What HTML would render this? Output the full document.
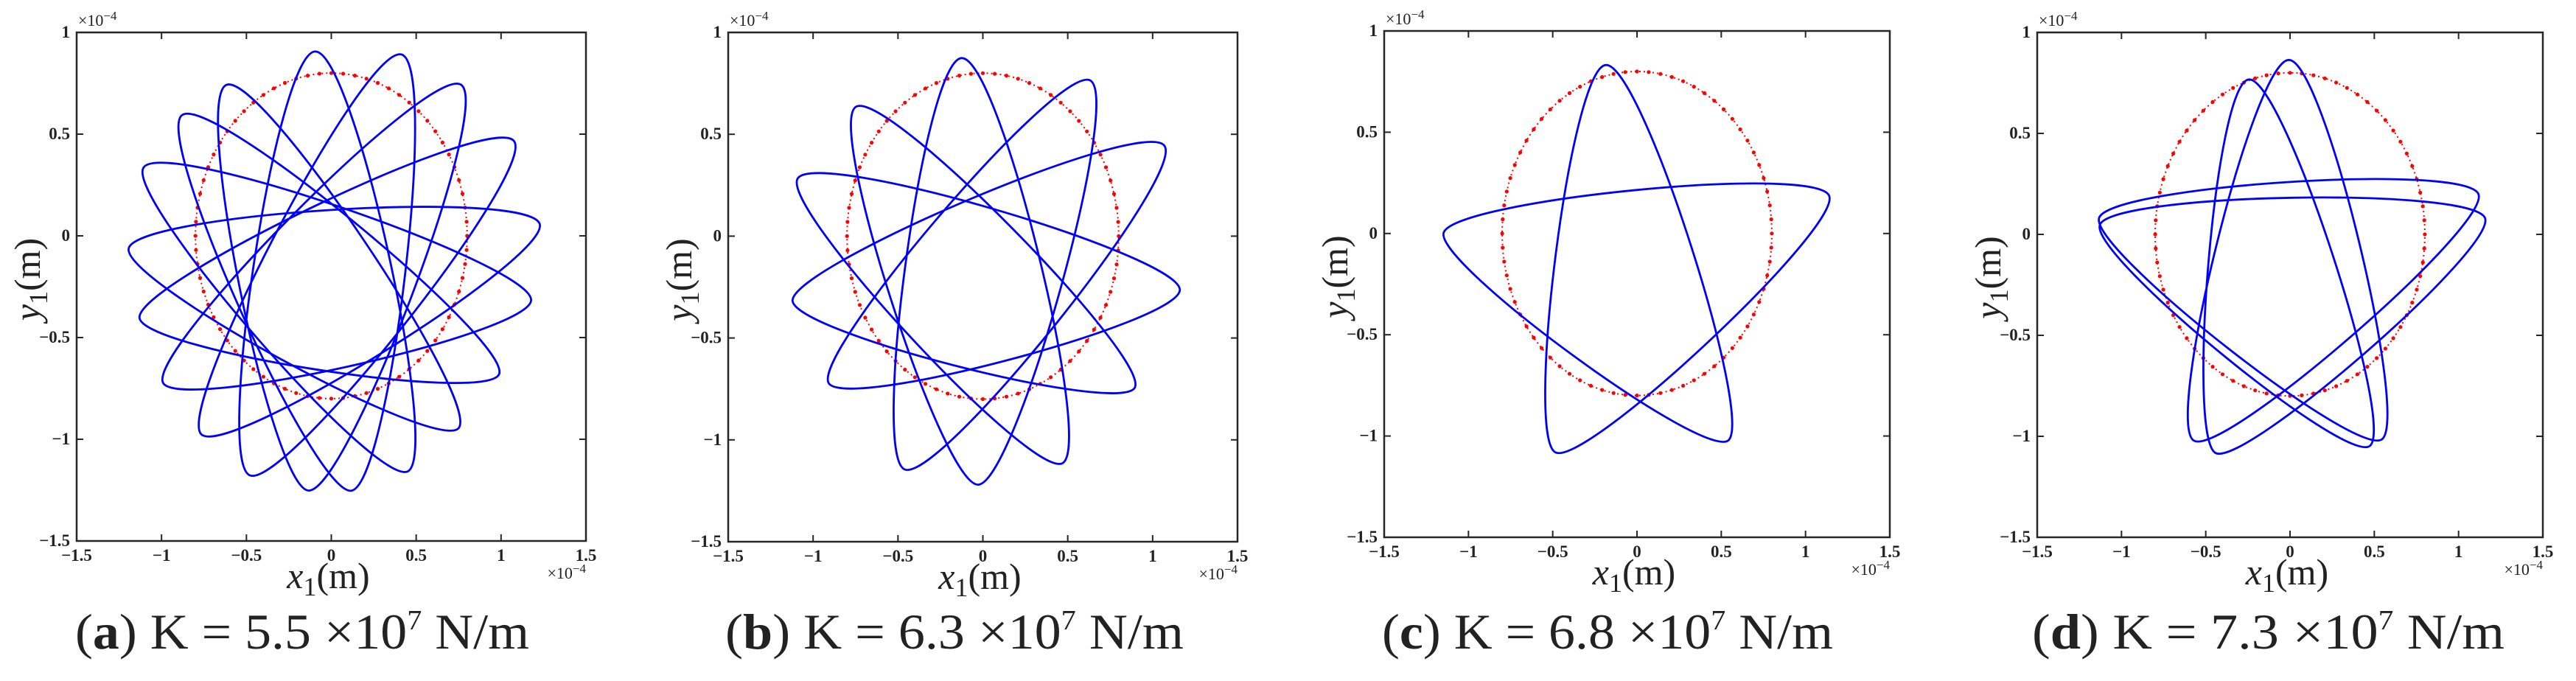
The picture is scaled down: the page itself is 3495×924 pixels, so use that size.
<!DOCTYPE html>
<html><head><meta charset="utf-8">
<style>
html,body{margin:0;padding:0;background:#fff;}
svg{display:block;}
text{font-family:"Liberation Serif",serif;fill:#222;}
</style></head>
<body>
<svg id="fig" width="3495" height="924" viewBox="0 0 3495 924" xmlns="http://www.w3.org/2000/svg"></svg>
<script>
// ---- data (per panel) : trajectory tip points (×1e-4 m), listed clockwise ----
const panelLetters = ["a","b","c","d"];
const stiffnessK = ["5.5","6.3","6.8","7.3"];
const tipsAX = [-0.095,0.416,0.766,1.077,1.227,1.177,0.99,0.753,0.454,0.122,-0.132,-0.481,-0.768,-0.993,-1.13,-1.192,-1.105,-0.88,-0.618];
const tipsAY = [0.906,0.891,0.742,0.465,0.06,-0.313,-0.676,-0.942,-1.156,-1.252,-1.252,-1.177,-0.974,-0.719,-0.399,-0.058,0.337,0.593,0.742];
const tipsBX = [-0.125,0.635,1.07,1.16,0.897,0.473,-0.025,-0.461,-0.91,-1.121,-1.09,-0.748];
const tipsBY = [0.874,0.763,0.443,-0.26,-0.74,-1.113,-1.22,-1.145,-0.719,-0.313,0.284,0.635];
const tipsCX = [-0.185,1.139,0.544,-0.486,-1.146];
const tipsCY = [0.832,0.188,-1.02,-1.08,0.006];
// panel d: two interleaved stars (5 tips each)
const tipsDX = [-0.007,1.118,0.547,-0.573,-1.132, -0.243,1.156,0.476,-0.443,-1.127];
const tipsDY = [0.864,0.2,-1.014,-1.02,0.083, 0.767,0.083,-1.046,-1.082,0.05];
const tipStep = [8, 5, 2, 2];          // traversal skip between successive tips
const starSize = [19, 12, 5, 5];       // tips per closed cycle
const circleR = [0.8, 0.8, 0.8, 0.8];  // reference circle radius
const xTicks = [-1.5,-1,-0.5,0,0.5,1,1.5];
const yTicks = [-1.5,-1,-0.5,0,0.5,1];
const xTickLabels = ["\u22121.5","\u22121","\u22120.5","0","0.5","1","1.5"];
const yTickLabels = ["\u22121.5","\u22121","\u22120.5","0","0.5","1"];

const tipsX = [tipsAX, tipsBX, tipsCX, tipsDX];
const tipsY = [tipsAY, tipsBY, tipsCY, tipsDY];

// ---- layout ----
const boxes = [
  {l:104,r:795,t:44,b:734, capL:102, capR:718},
  {l:988,r:1679,t:44,b:735, capL:984, capR:1606},
  {l:1878,r:2564,t:42,b:729, capL:1875, capR:2487},
  {l:2764,r:3450,t:44,b:729, capL:2757, capR:3398}
];
const tangentFrac = 0.09;
const svg = document.getElementById('fig');
const NS = "http://www.w3.org/2000/svg";
function mk(tag, attrs, parent){
  const e = document.createElementNS(NS, tag);
  for (const k in attrs) e.setAttribute(k, attrs[k]);
  (parent||svg).appendChild(e);
  return e;
}

function starPath(xs, ys, step, sx, sy) {
  const n = xs.length;
  const ord = [];
  let k = 0;
  for (let m = 0; m < n; m++) { ord.push(k); k = (k + step) % n; }
  const P = ord.map(j => [sx(xs[j]), sy(ys[j])]);
  const T = P.map((p, m) => {
    const a = P[(m - 1 + n) % n], b = P[(m + 1) % n];
    const dx = b[0] - a[0], dy = b[1] - a[1];
    const L = Math.hypot(dx, dy) || 1;
    return [dx / L, dy / L];
  });
  let d = "M" + P[0][0].toFixed(1) + "," + P[0][1].toFixed(1);
  for (let m = 0; m < n; m++) {
    const p = P[m], q = P[(m + 1) % n];
    const h = tangentFrac * Math.hypot(q[0] - p[0], q[1] - p[1]);
    const t1 = T[m], t2 = T[(m + 1) % n];
    d += "C" + (p[0] + t1[0]*h).toFixed(1) + "," + (p[1] + t1[1]*h).toFixed(1) + " " +
         (q[0] - t2[0]*h).toFixed(1) + "," + (q[1] - t2[1]*h).toFixed(1) + " " +
         q[0].toFixed(1) + "," + q[1].toFixed(1);
  }
  return d + "Z";
}

boxes.forEach((B, i) => {
  const g = mk('g', {});
  
  
  const sx = v => B.l + (v + 1.5) / 3 * (B.r - B.l);
  const sy = v => B.b - (v + 1.5) / 2.5 * (B.b - B.t);

  // reference circle (dotted red)
  let cd = "";
  for (let k = 0; k <= 360; k++) {
    const a = k * Math.PI / 180;
    cd += (k ? "L" : "M") + sx(circleR[i]*Math.cos(a)).toFixed(1) + "," + sy(circleR[i]*Math.sin(a)).toFixed(1);
  }
  const circ = mk('path', {d: cd, fill: 'none', stroke: '#ff0000', 'stroke-width': 2, 'stroke-dasharray': '2 4'}, g);
  
  
  const dots = mk('g', {fill: '#ff0000'}, g);
  
  
  for (let k = 0; k < 72; k++) {
    const a = k * 5 * Math.PI / 180;
    mk('circle', {cx: sx(circleR[i]*Math.cos(a)).toFixed(1), cy: sy(circleR[i]*Math.sin(a)).toFixed(1), r: 2.6}, dots);
  }

  // trajectory (one or more closed star cycles)
  const xs = tipsX[i], ys = tipsY[i];
  let d = "";
  for (let s = 0; s < xs.length; s += starSize[i]) {
    d += starPath(xs.slice(s, s + starSize[i]), ys.slice(s, s + starSize[i]), tipStep[i], sx, sy);
  }
  const traj = mk('path', {d: d, fill: 'none', stroke: '#0000ff', 'stroke-width': 2.8, 'stroke-linejoin': 'round'}, g);
  
  

  // axes box
  const box = mk('rect', {x: B.l, y: B.t, width: B.r - B.l, height: B.b - B.t, fill: 'none', stroke: '#262626', 'stroke-width': 2.5}, g);
  
  

  // ticks
  xTicks.forEach((v, j) => {
    const X = sx(v);
    mk('line', {x1: X, x2: X, y1: B.b, y2: B.b - 9, stroke: '#262626', 'stroke-width': 2}, g);
    mk('line', {x1: X, x2: X, y1: B.t, y2: B.t + 9, stroke: '#262626', 'stroke-width': 2}, g);
    const t = mk('text', {x: X, y: B.b + 27, 'text-anchor': 'middle', 'font-size': 23, 'font-weight': 'bold'}, g);
    t.textContent = xTickLabels[j];
    
    
  });
  yTicks.forEach((v, j) => {
    const Y = sy(v);
    mk('line', {x1: B.l, x2: B.l + 9, y1: Y, y2: Y, stroke: '#262626', 'stroke-width': 2}, g);
    mk('line', {x1: B.r, x2: B.r - 9, y1: Y, y2: Y, stroke: '#262626', 'stroke-width': 2}, g);
    const t = mk('text', {x: B.l - 9, y: Y + 7, 'text-anchor': 'end', 'font-size': 23, 'font-weight': 'bold'}, g);
    t.textContent = yTickLabels[j];
    
    
  });

  // exponent labels
  const e1 = mk('text', {x: B.l + 2, y: B.t - 9, 'font-size': 22}, g);
  e1.innerHTML = '\u00d710<tspan dy="-8" font-size="17">\u22124</tspan>';
  
  
  const e2 = mk('text', {x: B.r, y: B.b + 51, 'font-size': 22, 'text-anchor': 'end'}, g);
  e2.innerHTML = '\u00d710<tspan dy="-8" font-size="17">\u22124</tspan>';
  
  

  // axis titles
  const xl = mk('text', {x: (B.l + B.r) / 2 - 4, y: B.b + 64, 'text-anchor': 'middle', 'font-size': 50, fill: '#333'}, g);
  xl.innerHTML = '<tspan font-style="italic">x</tspan><tspan dy="10" font-size="36">1</tspan><tspan dy="-10">(m)</tspan>';
  
  
  const yc = (B.t + B.b) / 2 - 10;
  const yl = mk('text', {x: 0, y: 0, 'text-anchor': 'middle', 'font-size': 50, fill: '#333', transform: `translate(${B.l - 50},${yc}) rotate(-90)`}, g);
  yl.innerHTML = '<tspan font-style="italic">y</tspan><tspan dy="10" font-size="36">1</tspan><tspan dy="-10">(m)</tspan>';
  
  

  // caption
  const cap = mk('text', {x: B.capL, y: 880, 'font-size': 68, fill: '#111', textLength: B.capR - B.capL, lengthAdjust: 'spacingAndGlyphs'}, g);
  cap.innerHTML = '(<tspan font-weight="bold">' + panelLetters[i] + '</tspan>) K = ' + stiffnessK[i] +
    ' \u00d710<tspan dy="-26" font-size="38">7</tspan><tspan dy="26"> N/m</tspan>';
  
  
});
</script>
</body></html>
